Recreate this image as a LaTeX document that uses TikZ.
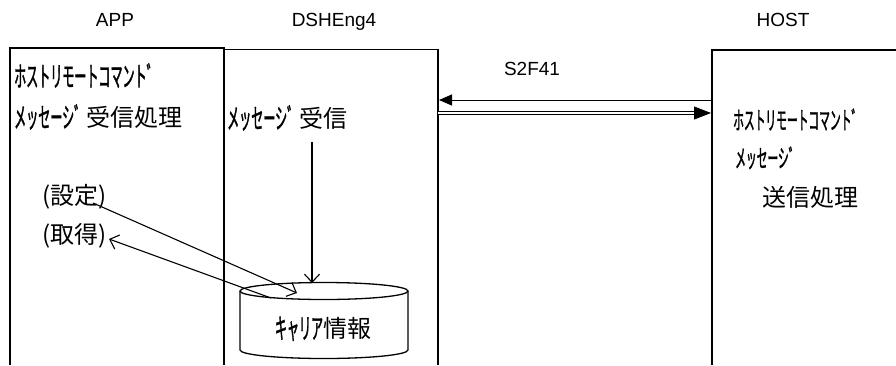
\documentclass[tikz,border=0pt]{standalone}
\usepackage{fontspec}
\setmainfont{Liberation Sans}
\newfontfamily\jp{Noto Sans CJK JP}
\newfontfamily\jpn[FakeStretch=0.43,FakeBold=1.2]{Noto Sans CJK JP}
\newcommand{\hwk}[1]{\raisebox{-1.5pt}{\jpn\fontsize{28}{28}\selectfont #1}}
\newcommand{\hwks}[1]{\raisebox{-1.3pt}{\jpn\fontsize{25}{25}\selectfont #1}}
\usetikzlibrary{arrows.meta}
\begin{document}
\begin{tikzpicture}[x=1pt,y=-1pt,
  lbl/.style={inner sep=0pt, font=\fontsize{19}{22}\selectfont, text height=13.6pt, text depth=0pt},
  jtxt/.style={inner sep=0pt, anchor=west, font=\jp\fontsize{24}{28}\selectfont, text height=21.1pt, text depth=2.9pt},
  jsm/.style={inner sep=0pt, anchor=west, font=\jp\fontsize{21.5}{26}\selectfont, text height=18.9pt, text depth=2.6pt},
  jc/.style={inner sep=0pt, font=\jp\fontsize{24}{28}\selectfont, text height=21.1pt, text depth=2.9pt},
  box/.style={line width=1.6pt},
  barb/.style={-{Straight Barb[length=8pt,width=15pt]}, line width=1.1pt}]
\useasboundingbox (0,0) rectangle (896,365);
% lanes
\draw[box] (10,365) -- (10,48) -- (224,48) -- (224,365);
\draw[box] (224,49.5) -- (438,49.5) -- (438,365);
\draw[box] (712,365) -- (712,50) -- (896,50);
% headings
\node[lbl] (app) at (115,20) {APP};
\node[lbl] (dsh) at (334,20) {DSHEng4};
\node[lbl] (host) at (783,20) {HOST};
\node[lbl] (s2f) at (532,69) {S2F41};
% texts
\node[jtxt] (a1) at (14,76) {\hwk{ホストリモートコマント゛}};
\node[jtxt] (a2) at (14,117) {\hwk{メッセーシ゛}受信処理};
\node[jtxt] (d1) at (227,118) {\hwk{メッセーシ゛}受信};
\node[jsm] (h1) at (733,120) {\hwks{ホストリモートコマント゛}};
\node[jsm] (h2) at (735,158) {\hwks{メッセーシ゛}};
\node[jc] (h3) at (810,197) {送信処理};
\node[jtxt] (set) at (42,195) {(設定)};
\node[jtxt] (get) at (42,234) {(取得)};
% cylinder
\draw[line width=1.3pt] (324,291) ellipse (84 and 8.5);
\draw[line width=1.3pt] (240,291) -- (240,350)
  .. controls (240,354.7) and (277.6,358.5) .. (324,358.5)
  .. controls (370.4,358.5) and (408,354.7) .. (408,350) -- (408,291);
\node[jc] (car) at (323,328) {\hwk{キャリア}情報};
% connector ends
\coordinate (hostL1) at (712,100);
\coordinate (dshR1) at (439,100);
\coordinate (dshR2) at (438,113);
\coordinate (hostL2) at (711,113);
\coordinate (recv) at (312,142);
\coordinate (cyltop) at (312,283);
\coordinate (setend) at (93,203);
\coordinate (cylset) at (297,293);
\coordinate (cylget) at (271,298);
\coordinate (getend) at (109,239);
% connectors
\draw[line width=1pt, -{Triangle[length=13pt,width=11pt]}] (hostL1) -- (dshR1);
\draw[double, double distance=1.6pt, line width=0.8pt, -{Triangle[length=17pt,width=13pt]}] (dshR2) -- (hostL2);
\draw[barb] (recv) -- (cyltop);
\draw[barb] (setend) -- (cylset);
\draw[barb] (cylget) -- (getend);
\end{tikzpicture}
\end{document}
